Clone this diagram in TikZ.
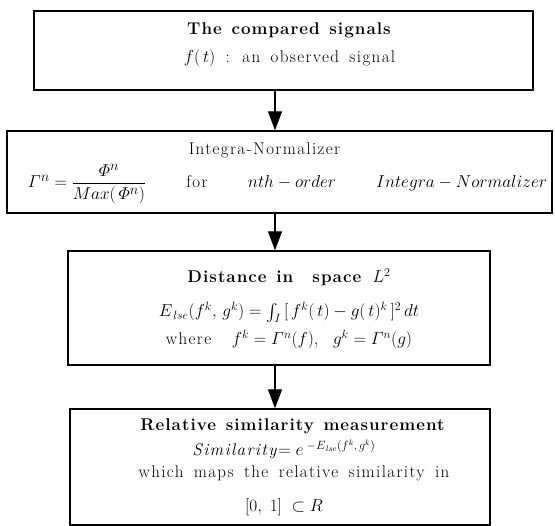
\documentclass[tikz,border=0pt]{standalone}
\usepackage{amsmath}
\usepackage{fontspec}
\setmainfont{Latin Modern Roman}[LetterSpace=8,WordSpace=1.6,
  BoldFeatures={LetterSpace=6,WordSpace=1.3}]
\usetikzlibrary{arrows.meta}

\begin{document}
\begin{tikzpicture}[x=1pt,y=-1pt,>={Triangle[width=14pt,length=19pt]},
  box/.style={draw,line width=1.3pt,inner sep=0pt,align=center,
    font=\fontsize{17}{28}\selectfont},
  flow/.style={->,line width=1.3pt}]
  \useasboundingbox (0,0) rectangle (555,526);
  \coordinate (ax) at (275,0);
  % the four stages, top to bottom
  \node[box,minimum width=499pt,minimum height=79pt] (sig) at (283.5,50.5)
    {\rule{0pt}{24pt}\hspace*{12pt}\textbf{The compared signals}\\
     \hspace*{12pt}$f(\,t)$ : an observed signal\rule[-27pt]{0pt}{27pt}};
  \node[box,minimum width=545pt,minimum height=82pt] (norm) at (279.5,172)
    {\rule{0pt}{24pt}Integra-Normalizer\hspace*{30pt}\\[5pt]
     \hspace*{16pt}\makebox[519pt]{{\fontsize{19}{28}\selectfont
       $\varGamma^{n}=\dfrac{\varPhi^{n}}{Max(\,\varPhi^{n})}$}\hfill
       for\hfill $nth-order$\hfill $Integra-Normalizer$}\rule[-25pt]{0pt}{25pt}};
  \node[box,minimum width=422pt,minimum height=114pt] (dist) at (279,308)
    {\rule{0pt}{32pt}\hspace*{20pt}\textbf{Distance in\ \ space} $L^{2}$\\[6pt]
     \hspace*{20pt}{\fontsize{18.5}{28}\selectfont
       $E_{\,lse}(f^{k},\,g^{k})=\int_{I}\,[\,f^{k}(\,t)-g(\,t)^{k}\,]^{2}\,dt$}\\
     \hspace*{20pt}where\ \ {\fontsize{18.5}{28}\selectfont
       $f^{k}=\varGamma^{n}(f)$,\enspace\;$g^{k}=\varGamma^{n}(g)$}\rule[-20pt]{0pt}{20pt}};
  \node[box,minimum width=420pt,minimum height=116pt] (sim) at (280,467)
    {\rule{0pt}{22pt}\hspace*{26pt}\textbf{Relative similarity measurement}\\[-3pt]
     \hspace*{8pt}\textit{Similarity}$=e^{\;-E_{\,lse}(f^{k},\,g^{k})}$\\[-6pt]
     \hspace*{28pt}which maps the relative similarity in\\[6pt]
     \hspace*{8pt}{\fontsize{19}{28}\selectfont$[0,\;1]\;\subset R$}\rule[-13pt]{0pt}{13pt}};
  % connectors
  \draw[flow] (sig.south -| ax) -- (norm.north -| ax);
  \draw[flow] (norm.south -| ax) -- (dist.north -| ax);
  \draw[flow] (dist.south -| ax) -- (sim.north -| ax);
\end{tikzpicture}
\end{document}
